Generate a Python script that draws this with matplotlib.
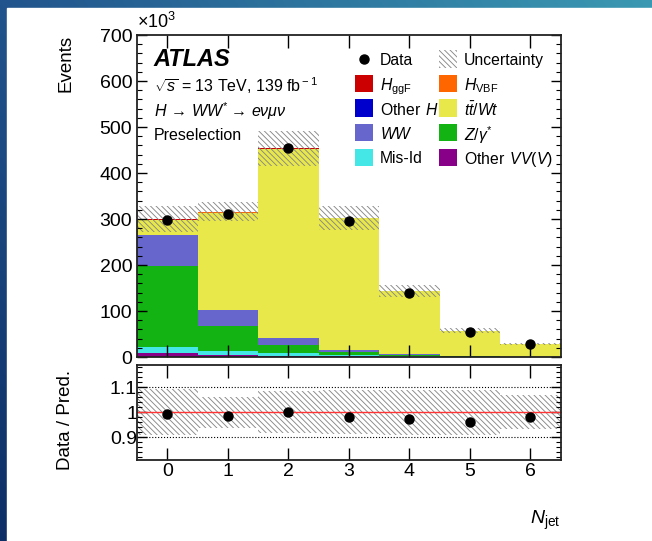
import numpy as np
import matplotlib
matplotlib.use('Agg')
import matplotlib.pyplot as plt
from matplotlib.patches import Rectangle
from matplotlib.ticker import MultipleLocator

plt.rcParams['font.family'] = ['Liberation Sans', 'DejaVu Sans']
plt.rcParams['mathtext.fontset'] = 'custom'
plt.rcParams['mathtext.rm'] = 'Liberation Sans'
plt.rcParams['mathtext.it'] = 'Liberation Sans:italic'
plt.rcParams['mathtext.bf'] = 'Liberation Sans:bold'
plt.rcParams['hatch.linewidth'] = 0.65
plt.rcParams['hatch.color'] = '#888888'

# events per jet multiplicity bin (x10^3)
n_jet = np.arange(7)
data = [298.0, 311.5, 454.0, 296.7, 140.0, 55.3, 28.0]

other_vv = [9.0, 5.0, 2.5, 1.2, 0.5, 0.2, 0.1]
mis_id = [13.0, 8.0, 7.0, 3.0, 1.2, 0.5, 0.3]
z_gamma = [175.0, 54.0, 17.0, 6.0, 2.0, 0.7, 0.3]
ww = [69.0, 35.0, 15.0, 6.0, 2.5, 0.8, 0.3]
top = [31.4, 211.8, 410.9, 284.9, 137.4, 55.13, 27.43]
other_h = [0.3, 0.3, 0.3, 0.2, 0.1, 0.05, 0.02]
h_vbf = [0.1, 0.3, 0.4, 0.3, 0.1, 0.05, 0.02]
h_ggf = [2.2, 1.6, 0.9, 0.4, 0.2, 0.07, 0.03]

# relative uncertainty on the total prediction
rel_unc = [0.092, 0.063, 0.084, 0.088, 0.09, 0.09, 0.068]

# stacking order, bottom to top
stack = [
    (other_vv, '#880088', r'Other $\,VV(V)$'),
    (mis_id, '#44e6e6', 'Mis-Id'),
    (z_gamma, '#12b312', r'$Z/\gamma^{*}$'),
    (ww, '#6666cc', r'$WW$'),
    (top, '#e8e84a', r'$t\bar{t}/Wt$'),
    (other_h, '#0000cc', r'Other $\,H$'),
    (h_vbf, '#ff6600', r'$H_{\rm VBF}$'),
    (h_ggf, '#cc0000', r'$H_{\rm ggF}$'),
]
HATCH = '\\' * 6
UNC_COLOR = '#888888'

W, H = 652, 541
fig = plt.figure(figsize=(W / 100, H / 100), dpi=100)

# slide background: blue gradient frame behind a white page
bg = fig.add_axes([0, 0, 1, 1], zorder=-10)
gx, gy = np.meshgrid(np.linspace(0, 1, 200), np.linspace(0, 1, 200))
c_tl = np.array([0.13, 0.33, 0.55])
c_tr = np.array([0.23, 0.60, 0.70])
c_bl = np.array([0.05, 0.18, 0.40])
grad = c_tl + (c_tr - c_tl) * gx[..., None] + (c_bl - c_tl) * gy[..., None]
bg.imshow(np.clip(grad, 0, 1), extent=[0, 1, 0, 1], aspect='auto', origin='upper')
bg.add_patch(Rectangle((7 / W, 0), 1, 1 - 8 / H, color='white'))
bg.set_xlim(0, 1)
bg.set_ylim(0, 1)
bg.axis('off')

ax = fig.add_axes([137 / W, 1 - 357 / H, 423.5 / W, 322 / H])
rax = fig.add_axes([137 / W, 1 - 459.5 / H, 423.5 / W, 94.5 / H])

bottom = np.zeros(len(n_jet))
colors = {}
for vals, color, label in stack:
    ax.bar(n_jet, vals, width=1.0, bottom=bottom, color=color, linewidth=0)
    colors[label] = color
    bottom = bottom + np.array(vals)
total = bottom

unc = total * np.array(rel_unc)
ax.bar(n_jet, 2 * unc, width=1.0, bottom=total - unc, fill=False,
       hatch=HATCH, edgecolor=UNC_COLOR, linewidth=0)
ax.plot(n_jet, data, 'o', color='black', markersize=6.5, zorder=5)

ax.set_xlim(-0.5, 6.5)
ax.set_ylim(0, 700)
ax.set_xticks(n_jet)
ax.yaxis.set_major_locator(MultipleLocator(100))
ax.yaxis.set_minor_locator(MultipleLocator(20))
ax.tick_params(axis='x', direction='in', top=True, length=9, width=1, labelbottom=False)
ax.tick_params(axis='y', which='major', direction='in', right=True, length=7,
               width=1, labelsize=14, pad=3.5)
ax.tick_params(axis='y', which='minor', direction='in', right=True, length=3.5, width=0.8)
ax.text(0, 1.008, r'$\times10^{3}$', transform=ax.transAxes, fontsize=13,
        ha='left', va='bottom')

ax.text(0.040, 0.924, 'ATLAS', transform=ax.transAxes, fontsize=17,
        fontweight='bold', fontstyle='italic', va='center')
ax.text(0.040, 0.842, r'$\sqrt{s}$ = 13 TeV, 139 fb$^{\rm -1}$', transform=ax.transAxes,
        fontsize=11.5, va='center')
ax.text(0.040, 0.764, r'$H\,\rightarrow\,WW^{*}\rightarrow\,e\nu\mu\nu$',
        transform=ax.transAxes, fontsize=11.5, va='center')
ax.text(0.040, 0.689, 'Preselection', transform=ax.transAxes, fontsize=11.5, va='center')

# two-column legend on a fixed grid
col_x = [0.515, 0.713]
row_y0, row_dy = 0.9255, 0.0764
box_w, box_h = 0.0425, 0.054
text_dx = 0.059
columns = [
    ['Data', r'$H_{\rm ggF}$', r'Other $\,H$', r'$WW$', 'Mis-Id'],
    ['Uncertainty', r'$H_{\rm VBF}$', r'$t\bar{t}/Wt$', r'$Z/\gamma^{*}$', r'Other $\,VV(V)$'],
]
for cx, labels in zip(col_x, columns):
    for i, label in enumerate(labels):
        cy = row_y0 - i * row_dy
        if label == 'Data':
            ax.plot([cx + box_w / 2], [cy], 'o', color='black', markersize=6.5,
                    transform=ax.transAxes, clip_on=False)
        elif label == 'Uncertainty':
            ax.add_patch(Rectangle((cx, cy - box_h / 2), box_w, box_h, fill=False,
                                   hatch=HATCH, edgecolor=UNC_COLOR, linewidth=0,
                                   transform=ax.transAxes))
        else:
            ax.add_patch(Rectangle((cx, cy - box_h / 2), box_w, box_h,
                                   facecolor=colors[label], edgecolor='none',
                                   transform=ax.transAxes))
        ax.text(cx + text_dx, cy, label, transform=ax.transAxes, fontsize=11.3,
                va='center_baseline', ha='left')

# ratio panel
ratio = np.array(data) / total
rax.bar(n_jet, 2 * np.array(rel_unc), width=1.0, bottom=1 - np.array(rel_unc), fill=False,
        hatch=HATCH, edgecolor=UNC_COLOR, linewidth=0)
rax.axhline(1.0, color='#ff3333', linewidth=1.0)
rax.axhline(1.1, color='black', linestyle=':', linewidth=0.8)
rax.axhline(0.9, color='black', linestyle=':', linewidth=0.8)
rax.plot(n_jet, ratio, 'o', color='black', markersize=6.5, zorder=5)
rax.set_xlim(-0.5, 6.5)
rax.set_ylim(0.81, 1.19)
rax.set_xticks(n_jet)
rax.set_yticks([0.9, 1.0, 1.1])
rax.set_yticklabels(['0.9', '1', '1.1'])
rax.yaxis.set_minor_locator(MultipleLocator(0.02))
rax.tick_params(axis='x', direction='in', top=True, length=9, width=1, labelsize=14, pad=2.5)
rax.tick_params(axis='y', which='major', direction='in', right=True, length=7,
                width=1, labelsize=14, pad=0)
rax.tick_params(axis='y', which='minor', direction='in', right=True, length=3.5, width=0.8)

for a in (ax, rax):
    for sp in a.spines.values():
        sp.set_linewidth(1.3)
        sp.set_color('#222222')

fig.text(66 / W, 1 - 35 / H, 'Events', rotation=90, fontsize=13.5, ha='center', va='top')
fig.text(66 / W, 1 - 420 / H, 'Data / Pred.', rotation=90, fontsize=13.5, ha='center', va='center')
fig.text(560 / W, 1 - 520 / H, r'$N_{\rm jet}$', fontsize=14, ha='right', va='center')

fig.savefig('out.png', dpi=100)
